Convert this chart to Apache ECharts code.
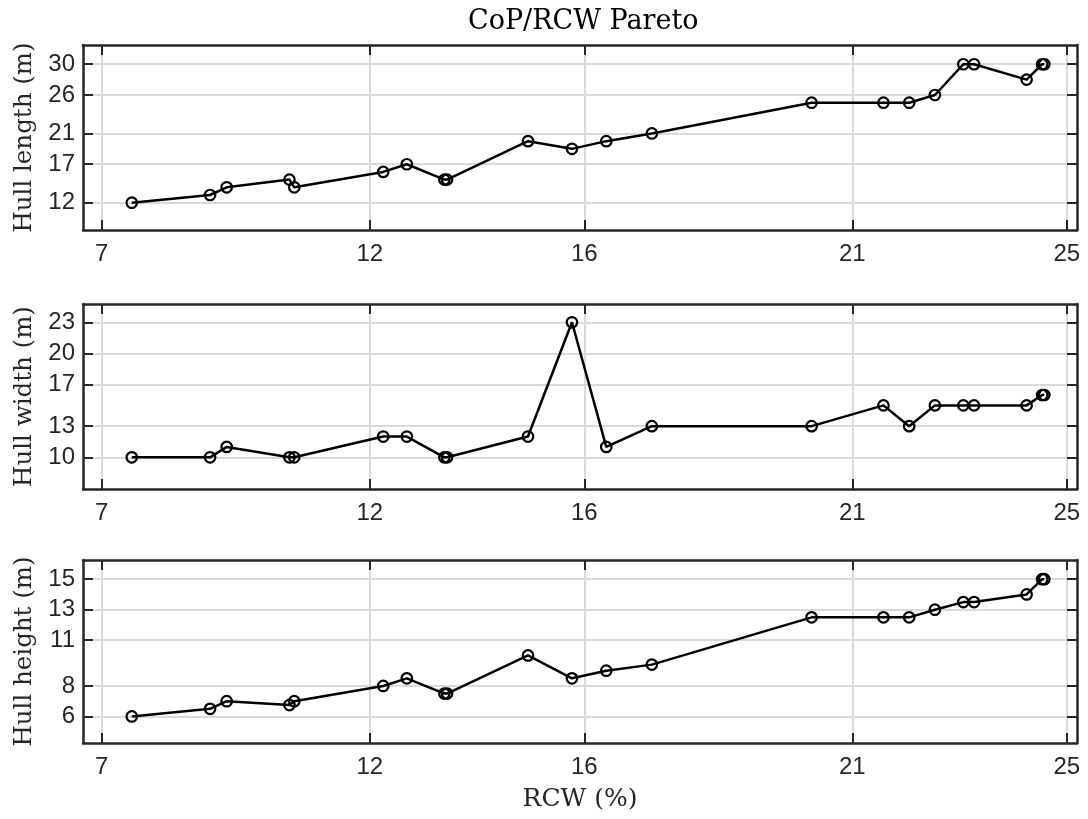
<!DOCTYPE html>
<html>
<head>
<meta charset="utf-8">
<script src="https://cdn.jsdelivr.net/npm/echarts@6/dist/echarts.min.js"></script>
<style>
html,body{margin:0;padding:0;background:#fff;}
#chart{width:1088px;height:819px;}
</style>
</head>
<body>
<div id="chart"></div>
<script>
// ---- data ----
const rcw = [7.56, 9.02, 9.33, 10.50, 10.59, 12.25, 12.69, 13.39, 13.44, 14.95, 15.77, 16.41, 17.26, 20.24, 21.58, 22.06, 22.54, 23.07, 23.27, 24.25, 24.54, 24.58];
const hullLength = [12, 13, 14, 15, 14, 16, 17, 15, 15, 20, 19, 20, 21, 25, 25, 25, 26, 30, 30, 28, 30, 30];
const hullWidth  = [10, 10, 11, 10, 10, 12, 12, 10, 10, 12, 23, 11, 13, 13, 15, 13, 15, 15, 15, 15, 16, 16];
const hullHeight = [6, 6.5, 7, 6.75, 7, 8, 8.5, 7.5, 7.5, 10, 8.5, 9, 9.4, 12.5, 12.5, 12.5, 13, 13.5, 13.5, 14, 15, 15];

const xTicks = [7, 12, 16, 21, 25];
const lengthTicks = [12, 17, 21, 26, 30];
const widthTicks = [10, 13, 17, 20, 23];
const heightTicks = [6, 8, 11, 13, 15];

const titleText = 'CoP/RCW Pareto';
const xName = 'RCW (%)';
const yNames = ['Hull length (m)', 'Hull width (m)', 'Hull height (m)'];

// ---- layout / styles ----
const xRange = [6.65, 25.19];
const yRanges = [[8.45, 32.5], [6.95, 24.76], [4.26, 16.26]];
const yTickSets = [lengthTicks, widthTicks, heightTicks];
const seriesData = [hullLength, hullWidth, hullHeight];
const grids = [
  {left: 83, width: 994, top: 45, height: 185},
  {left: 83, width: 994, top: 304, height: 185},
  {left: 83, width: 994, top: 560, height: 183}
];
const frameColor = '#262626';
const gridColor = '#d9d9d9';
const serif = 'DejaVu Serif';
const sans = 'Liberation Sans';

const xAxes = [], yAxes = [], series = [];
for (let i = 0; i < 3; i++) {
  const common = {
    gridIndex: i,
    axisLine: {show: true, onZero: false, lineStyle: {color: frameColor, width: 2.5}},
    axisTick: {show: true, inside: true, length: 10, lineStyle: {color: frameColor, width: 2}}
  };
  xAxes.push(Object.assign({}, common, {
    type: 'value', position: 'bottom', min: xRange[0], max: xRange[1],
    axisTick: Object.assign({}, common.axisTick, {customValues: xTicks}),
    axisLabel: {customValues: xTicks, color: frameColor, fontFamily: sans, fontSize: 24, margin: 12},
    splitLine: {show: true, lineStyle: {color: gridColor, width: 2}},
    name: i === 2 ? xName : '', nameLocation: 'middle', nameGap: 44,
    nameTextStyle: {fontFamily: serif, fontSize: 25, color: frameColor}
  }));
  yAxes.push(Object.assign({}, common, {
    type: 'value', position: 'left', min: yRanges[i][0], max: yRanges[i][1],
    axisTick: Object.assign({}, common.axisTick, {customValues: yTickSets[i]}),
    axisLabel: {customValues: yTickSets[i], color: frameColor, fontFamily: sans, fontSize: 24, margin: 8},
    splitLine: {show: true, lineStyle: {color: gridColor, width: 2}},
    name: yNames[i], nameLocation: 'middle', nameGap: 45,
    nameTextStyle: {fontFamily: serif, fontSize: 24.5, color: frameColor}
  }));
  series.push({
    type: 'line', xAxisIndex: i, yAxisIndex: i,
    data: rcw.map((v, k) => [v, seriesData[i][k]]),
    symbol: 'circle', symbolSize: 10.5, showSymbol: true,
    lineStyle: {color: '#000', width: 2.5},
    itemStyle: {color: 'rgba(0,0,0,0)', borderColor: '#000', borderWidth: 2.2},
    emphasis: {disabled: true},
    z: 5
  });
}
for (let i = 0; i < 3; i++) {
  xAxes.push({
    type: 'value', gridIndex: i, position: 'top', min: xRange[0], max: xRange[1],
    axisLine: {show: true, onZero: false, lineStyle: {color: frameColor, width: 2.5}},
    axisTick: {show: true, inside: true, length: 10, customValues: xTicks, lineStyle: {color: frameColor, width: 2}},
    axisLabel: {show: false},
    splitLine: {show: false}
  });
  yAxes.push({
    type: 'value', gridIndex: i, position: 'right', min: yRanges[i][0], max: yRanges[i][1],
    axisLine: {show: true, onZero: false, lineStyle: {color: frameColor, width: 2.5}},
    axisTick: {show: true, inside: true, length: 10, customValues: yTickSets[i], lineStyle: {color: frameColor, width: 2}},
    axisLabel: {show: false},
    splitLine: {show: false}
  });
}

const chart = echarts.init(document.getElementById('chart'), null, {renderer: 'canvas'});
chart.setOption({
  animation: false,
  backgroundColor: '#fff',
  title: {text: titleText, left: 463, top: 3,
    textStyle: {fontFamily: serif, fontSize: 27, fontWeight: 'normal', color: '#000'}},
  grid: grids,
  xAxis: xAxes,
  yAxis: yAxes,
  series: series
});
</script>
</body>
</html>
